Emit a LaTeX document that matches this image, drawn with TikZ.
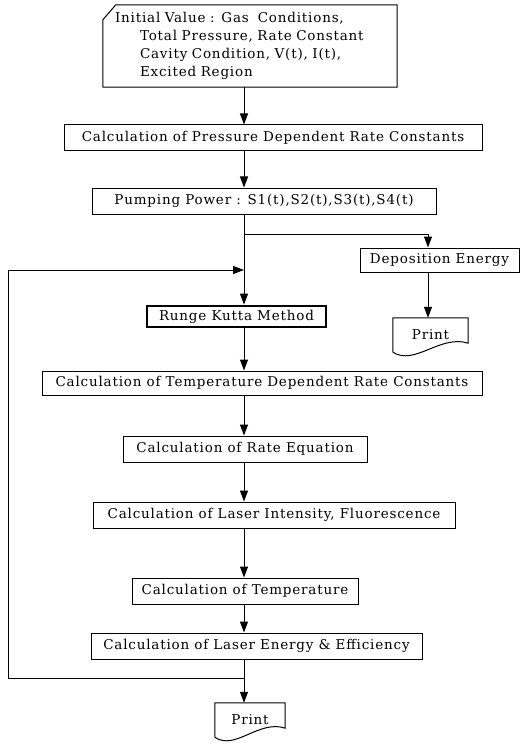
\documentclass[tikz,border=0pt]{standalone}
\usepackage{fontspec}
\setmainfont{DejaVu Serif}[LetterSpace=6]
\usetikzlibrary{arrows.meta}

\tikzset{
  box/.style={draw, line width=1pt, minimum height=26pt, inner sep=0pt,
    font=\fontsize{13.5}{16}\selectfont},
  rkbox/.style={box, line width=2.8pt},
  prnt/.style={inner sep=0pt, font=\fontsize{13.5}{16}\selectfont},
  arr/.style={-{Triangle[length=11pt,width=8pt]}, line width=1pt},
  ln/.style={line width=1pt},
}

\begin{document}
\begin{tikzpicture}[x=1pt, y=-1pt]
    \useasboundingbox (0,0) rectangle (522,746);

    % Input card
    \node[prnt, minimum width=294pt, minimum height=82pt, text width=270pt,
      inner xsep=12pt, align=left, font=\fontsize{13.5}{18}\selectfont] (init) at (250,46)
      {Initial Value : Gas\ \ Conditions,\\
       \hspace*{25pt}Total Pressure, Rate Constant\\
       \hspace*{25pt}Cavity Condition, V(t), I(t),\\
       \hspace*{25pt}Excited Region};
    \draw[ln] ([yshift=-15pt]init.north west) -- ([xshift=13pt]init.north west)
      -- (init.north east) -- (init.south east) -- (init.south west) -- cycle;

    % Boxes
    \node[box, minimum width=418pt] (press) at (273,138) {Calculation of Pressure Dependent Rate Constants};
    \node[box, minimum width=344pt] (pump) at (264,201) {Pumping Power : S1(t),S2(t),S3(t),S4(t)};
    \node[box, minimum width=159pt, minimum height=24pt] (dep) at (439.5,260) {Deposition Energy};
    \node[rkbox, minimum width=179pt, minimum height=21pt] (runge) at (236.5,316.5) {Runge Kutta Method};
    \node[prnt, minimum width=75pt, minimum height=34pt] (print1) at (430.5,335) {Print};
    \node[box, minimum width=440pt, minimum height=24pt] (tempdep) at (262,383) {Calculation of Temperature Dependent Rate Constants};
    \node[box, minimum width=244pt] (rateeq) at (245,449) {Calculation of Rate Equation};
    \node[box, minimum width=362pt] (laserint) at (274,515) {Calculation of Laser Intensity, Fluorescence};
    \node[box, minimum width=226pt] (temp) at (245,591) {Calculation of Temperature};
    \node[box, minimum width=331pt] (laseren) at (256.5,646) {Calculation of Laser Energy \& Efficiency};
    \node[prnt, minimum width=70pt, minimum height=34pt] (print2) at (250,720) {Print};

    % Print sheets
    \draw[ln] (print1.south west) -- (print1.north west) -- (print1.north east)
      -- ([yshift=9pt]print1.south east)
      .. controls ([xshift=-28pt,yshift=18pt]print1.south east) and ([xshift=22pt,yshift=-14pt]print1.south west)
      .. (print1.south west);
    \draw[ln] (print2.south west) -- (print2.north west) -- (print2.north east)
      -- ([yshift=9pt]print2.south east)
      .. controls ([xshift=-26pt,yshift=18pt]print2.south east) and ([xshift=20pt,yshift=-14pt]print2.south west)
      .. (print2.south west);

    % Flow lines
    \coordinate (trunk) at (244,0);
    \coordinate (side) at (428,0);
    \coordinate (split) at (244,234);
    \coordinate (join) at (244,270);
    \coordinate (back) at (244,678);
    \coordinate (loopx) at (8,678);

    \draw[arr] (init.south -| trunk) -- (press.north -| trunk);
    \draw[arr] (press.south -| trunk) -- (pump.north -| trunk);
    \draw[arr] (pump.south -| trunk) -- (runge.north -| trunk);
    \draw[arr] (split) -| (dep.north -| side);
    \draw[arr] (dep.south -| side) -- (print1.north -| side);
    \draw[arr] (back) -- (loopx) |- (join);
    \foreach \a/\b in {runge/tempdep, tempdep/rateeq, rateeq/laserint,
                       laserint/temp, temp/laseren, laseren/print2}
      \draw[arr] (\a.south -| trunk) -- (\b.north -| trunk);
\end{tikzpicture}
\end{document}
